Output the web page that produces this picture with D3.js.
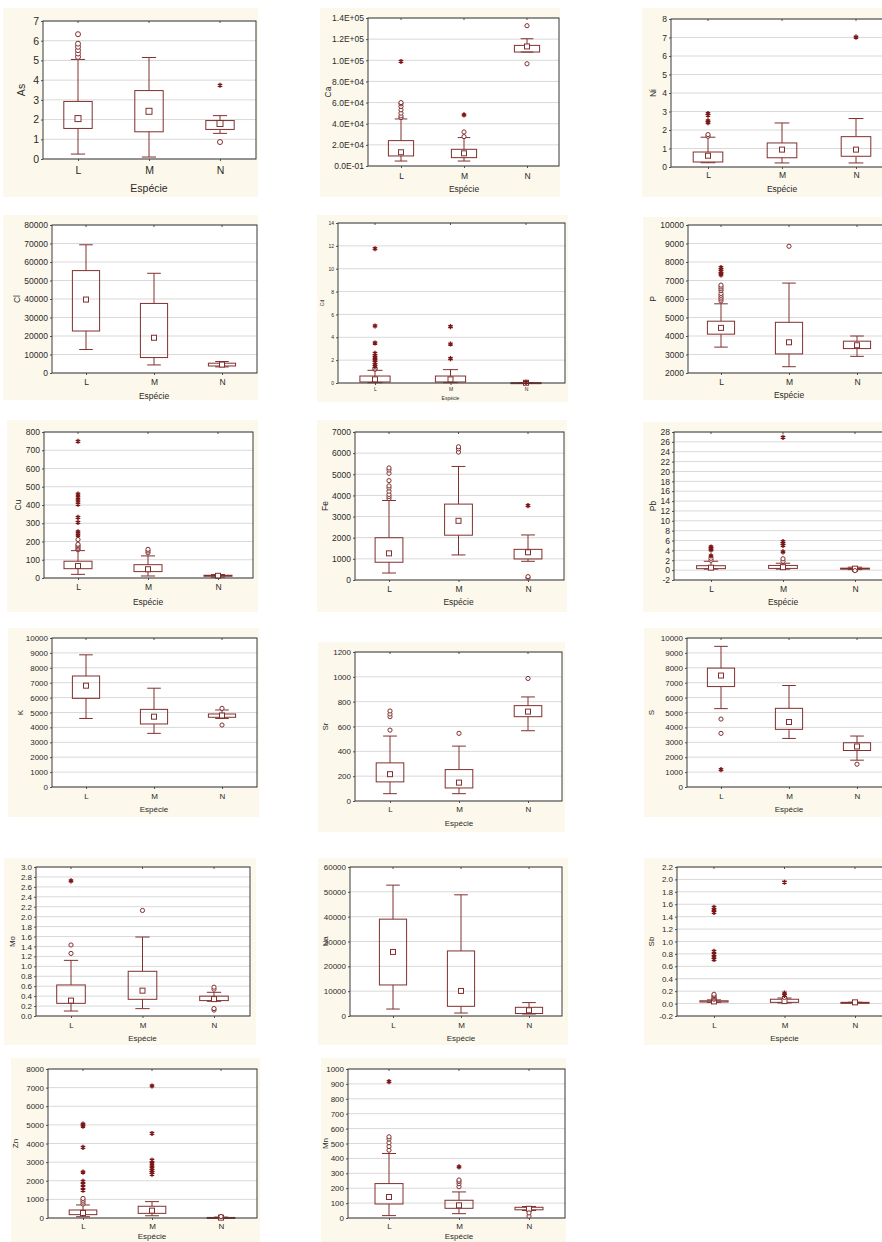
<!DOCTYPE html>
<html>
<head>
<meta charset="utf-8">
<script src="https://cdn.jsdelivr.net/npm/d3@7"></script>
<style>
  body { margin: 0; background: #fff; }
  svg { display: block; font-family: "Liberation Sans", Arial, sans-serif; }
</style>
</head>
<body>
<svg id="chart" width="882" height="1242"></svg>
<script>
// categories shared by every panel
var categories = ["L", "M", "N"];
var xTitle = "Espécie";

// box = [whisker low, q1, median, q3, whisker high] per category
// out = outliers (circles), ext = extremes (asterisks)
var as_ticks = [0, 1, 2, 3, 4, 5, 6, 7];
var as_box = [[0.25, 1.55, 2.05, 2.92, 5.05], [0.1, 1.38, 2.42, 3.47, 5.15], [1.3, 1.5, 1.8, 1.95, 2.2]];
var as_out = [[5.18, 5.35, 5.52, 5.69, 5.85, 6.33], [], [0.86]];
var as_ext = [[], [], [3.74]];

var ca_ticks = [0, 20000, 40000, 60000, 80000, 100000, 120000, 140000];
var ca_labels = ["0.0E-01", "2.0E+04", "4.0E+04", "6.0E+04", "8.0E+04", "1.0E+05", "1.2E+05", "1.4E+05"];
var ca_box = [[4700, 9500, 13000, 24000, 44500], [4700, 7900, 12000, 15800, 26900], [107800, 107800, 113100, 114100, 120400]];
var ca_out = [[45800, 47400, 50000, 53100, 56300, 58800, 60000], [27800, 32200], [96700, 132700]];
var ca_ext = [[98900], [48400], []];

var ni_ticks = [0, 1, 2, 3, 4, 5, 6, 7, 8];
var ni_box = [[0.23, 0.27, 0.61, 0.81, 1.61], [0.22, 0.5, 0.94, 1.3, 2.38], [0.22, 0.58, 0.94, 1.64, 2.62]];
var ni_out = [[1.66, 1.75], [], []];
var ni_ext = [[2.4, 2.49, 2.8, 2.89], [], [7.02]];

var cl_ticks = [0, 10000, 20000, 30000, 40000, 50000, 60000, 70000, 80000];
var cl_box = [[12700, 22700, 39700, 55350, 69300], [4350, 8350, 19050, 37600, 53900], [3300, 3800, 4550, 5300, 6200]];
var cl_out = [[], [], []];
var cl_ext = [[], [], []];

var cd_ticks = [0, 2, 4, 6, 8, 10, 12, 14];
var cd_box = [[0.03, 0.09, 0.32, 0.61, 1.11], [0.03, 0.09, 0.32, 0.61, 1.17], [0, 0.01, 0.02, 0.03, 0.04]];
var cd_out = [[1.2, 1.3], [], []];
var cd_ext = [[1.45, 1.6, 1.8, 2.0, 2.2, 2.4, 2.6, 3.5, 4.99, 11.75], [2.13, 3.41, 4.93], [0.06]];

var p_ticks = [2000, 3000, 4000, 5000, 6000, 7000, 8000, 9000, 10000];
var p_box = [[3400, 4100, 4440, 4800, 5740], [2340, 3030, 3660, 4740, 6860], [2900, 3320, 3500, 3720, 4000]];
var p_out = [[5900, 6000, 6100, 6200, 6300, 6450, 6550, 6650, 6750], [8850], []];
var p_ext = [[7300, 7400, 7500, 7600, 7700], [], []];

var cu_ticks = [0, 100, 200, 300, 400, 500, 600, 700, 800];
var cu_box = [[20, 51, 66, 92, 150], [11, 35, 48, 73, 121], [5, 10, 12, 15, 19]];
var cu_out = [[155, 162, 170, 178, 185, 211], [138, 148, 157], []];
var cu_ext = [[235, 253, 305, 332, 404, 422, 440, 460, 749], [], []];

var fe_ticks = [0, 1000, 2000, 3000, 4000, 5000, 6000, 7000];
var fe_box = [[330, 840, 1260, 2000, 3760], [1185, 2120, 2800, 3590, 5370], [885, 995, 1310, 1450, 2130]];
var fe_out = [[3850, 3950, 4050, 4200, 4350, 4450, 4700, 5050, 5200, 5300], [6050, 6200, 6300], [100, 160]];
var fe_ext = [[], [], [3520]];

var pb_ticks = [-2, 0, 2, 4, 6, 8, 10, 12, 14, 16, 18, 20, 22, 24, 26, 28];
var pb_box = [[0.2, 0.3, 0.5, 0.9, 1.8], [0.2, 0.35, 0.6, 0.95, 1.4], [0.1, 0.2, 0.3, 0.4, 0.6]];
var pb_out = [[2.0, 2.4], [1.8, 2.3], [-0.1]];
var pb_ext = [[2.9, 4.1, 4.4, 4.7], [3.7, 5.0, 5.4, 5.8, 26.9], []];

var k_ticks = [0, 1000, 2000, 3000, 4000, 5000, 6000, 7000, 8000, 9000, 10000];
var k_box = [[4600, 5950, 6800, 7450, 8870], [3600, 4230, 4720, 5210, 6630], [4600, 4680, 4800, 4900, 5170]];
var k_out = [[], [], [4160, 5280]];
var k_ext = [[], [], []];

var sr_ticks = [0, 200, 400, 600, 800, 1000, 1200];
var sr_box = [[59, 154, 216, 307, 523], [59, 105, 148, 253, 442], [566, 679, 720, 768, 838]];
var sr_out = [[571, 679, 701, 725], [545], [987]];
var sr_ext = [[], [], []];

var s_ticks = [0, 1000, 2000, 3000, 4000, 5000, 6000, 7000, 8000, 9000, 10000];
var s_box = [[5260, 6740, 7480, 7980, 9440], [3260, 3870, 4360, 5280, 6810], [1800, 2450, 2720, 2970, 3420]];
var s_out = [[3600, 4560], [], [1530]];
var s_ext = [[1170], [], []];

var mo_ticks = [0, 0.2, 0.4, 0.6, 0.8, 1.0, 1.2, 1.4, 1.6, 1.8, 2.0, 2.2, 2.4, 2.6, 2.8, 3.0];
var mo_box = [[0.1, 0.255, 0.31, 0.625, 1.12], [0.148, 0.336, 0.51, 0.9, 1.59], [0.296, 0.31, 0.34, 0.4, 0.477]];
var mo_out = [[1.26, 1.43], [2.125], [0.12, 0.15, 0.54, 0.58]];
var mo_ext = [[2.72], [], []];

var na_ticks = [0, 10000, 20000, 30000, 40000, 50000, 60000];
var na_box = [[2800, 12500, 25800, 39000, 52700], [1200, 3900, 10100, 26200, 48800], [800, 1000, 2300, 3500, 5400]];
var na_out = [[], [], []];
var na_ext = [[], [], []];

var sb_ticks = [-0.2, 0, 0.2, 0.4, 0.6, 0.8, 1.0, 1.2, 1.4, 1.6, 1.8, 2.0, 2.2];
var sb_box = [[0.02, 0.025, 0.035, 0.045, 0.06], [0.01, 0.02, 0.04, 0.07, 0.09], [0.02, 0.02, 0.02, 0.02, 0.02]];
var sb_out = [[0.07, 0.09, 0.11, 0.13, 0.15], [0.1], []];
var sb_ext = [[0.71, 0.75, 0.79, 0.84, 1.47, 1.51, 1.55], [0.13, 0.17, 1.955], []];

var zn_ticks = [0, 1000, 2000, 3000, 4000, 5000, 6000, 7000, 8000];
var zn_box = [[70, 180, 270, 430, 700], [120, 250, 395, 630, 880], [0, 10, 20, 30, 50]];
var zn_out = [[750, 850, 950, 1050], [], [80]];
var zn_ext = [[1490, 1650, 1800, 1970, 2460, 3790, 4930, 5040], [2350, 2450, 2550, 2650, 2800, 2950, 3100, 4540, 7090], []];

var mn_ticks = [0, 100, 200, 300, 400, 500, 600, 700, 800, 900, 1000];
var mn_box = [[16, 94, 141, 231, 433], [29, 65, 85, 119, 175], [50, 55, 62, 72, 77]];
var mn_out = [[455, 480, 505, 530, 545], [210, 230, 245, 255], [13, 34]];
var mn_ext = [[915], [343], []];

// panel layout: bg = [x0,y0,x1,y1], plot = [left,top,right,bottom], cat = [x of L, x of N]
var panels = [
  { name: "As", ticks: as_ticks, box: as_box, out: as_out, ext: as_ext, bg: [3, 8, 258, 197], plot: [43, 21, 256, 159], cat: [78, 220], catY: 170, titleY: 188, yTitleX: 21, fs: 10.5 },
  { name: "Ca", ticks: ca_ticks, labels: ca_labels, box: ca_box, out: ca_out, ext: ca_ext, bg: [320, 8, 560, 197], plot: [368, 18, 559, 166], cat: [401, 527], catY: 176, titleY: 189, yTitleX: 328, fs: 8.5 },
  { name: "Ni", ticks: ni_ticks, box: ni_box, out: ni_out, ext: ni_ext, bg: [642, 8, 900, 197], plot: [671, 19, 893, 167], cat: [708, 856], catY: 175, titleY: 189, yTitleX: 653, fs: 8.5 },
  { name: "Cl", ticks: cl_ticks, box: cl_box, out: cl_out, ext: cl_ext, bg: [3, 215, 258, 400], plot: [52, 225, 257, 373], cat: [86, 222], catY: 382, titleY: 396, yTitleX: 17, fs: 8.5 },
  { name: "Cd", ticks: cd_ticks, box: cd_box, out: cd_out, ext: cd_ext, bg: [317, 215, 568, 402], plot: [338, 223, 565, 383], cat: [375, 526], catY: 389, titleY: 398, yTitleX: 322, fs: 5 },
  { name: "P", ticks: p_ticks, box: p_box, out: p_out, ext: p_ext, bg: [643, 217, 900, 400], plot: [688, 225, 891, 373], cat: [721, 857], catY: 382, titleY: 395, yTitleX: 653, fs: 8.5 },
  { name: "Cu", ticks: cu_ticks, box: cu_box, out: cu_out, ext: cu_ext, bg: [7, 420, 258, 612], plot: [44, 432, 253, 578], cat: [78, 218], catY: 587, titleY: 602, yTitleX: 18, fs: 8.5 },
  { name: "Fe", ticks: fe_ticks, box: fe_box, out: fe_out, ext: fe_ext, bg: [317, 420, 567, 612], plot: [355, 432, 564, 580], cat: [389, 528], catY: 589, titleY: 602, yTitleX: 325, fs: 8.5 },
  { name: "Pb", ticks: pb_ticks, box: pb_box, out: pb_out, ext: pb_ext, bg: [643, 422, 900, 612], plot: [674, 432, 891, 580], cat: [711, 855], catY: 589, titleY: 602, yTitleX: 653, fs: 8.5 },
  { name: "K", ticks: k_ticks, box: k_box, out: k_out, ext: k_ext, bg: [8, 628, 259, 817], plot: [52, 638, 257, 787], cat: [86, 222], catY: 796, titleY: 809, yTitleX: 20, fs: 8 },
  { name: "Sr", ticks: sr_ticks, box: sr_box, out: sr_out, ext: sr_ext, bg: [318, 642, 565, 832], plot: [355, 652, 562, 801], cat: [390, 528], catY: 809, titleY: 823, yTitleX: 325, fs: 8 },
  { name: "S", ticks: s_ticks, box: s_box, out: s_out, ext: s_ext, bg: [644, 628, 900, 817], plot: [687, 638, 891, 787], cat: [721, 857], catY: 796, titleY: 809, yTitleX: 651, fs: 8 },
  { name: "Mo", ticks: mo_ticks, box: mo_box, out: mo_out, ext: mo_ext, bg: [4, 858, 256, 1045], plot: [36, 867, 250, 1016], cat: [71, 214], catY: 1025, titleY: 1038, yTitleX: 12, fs: 8, dec: 1 },
  { name: "Na", ticks: na_ticks, box: na_box, out: na_out, ext: na_ext, bg: [318, 858, 568, 1045], plot: [350, 867, 562, 1016], cat: [393, 529], catY: 1025, titleY: 1038, yTitleX: 325, fs: 8 },
  { name: "Sb", ticks: sb_ticks, box: sb_box, out: sb_out, ext: sb_ext, bg: [644, 858, 900, 1045], plot: [677, 867, 891, 1016], cat: [714, 855], catY: 1025, titleY: 1038, yTitleX: 651, fs: 8, dec: 1 },
  { name: "Zn", ticks: zn_ticks, box: zn_box, out: zn_out, ext: zn_ext, bg: [11, 1058, 260, 1250], plot: [48, 1069, 257, 1218], cat: [83, 221], catY: 1226, titleY: 1236, yTitleX: 15, fs: 8 },
  { name: "Mn", ticks: mn_ticks, box: mn_box, out: mn_out, ext: mn_ext, bg: [321, 1058, 566, 1250], plot: [348, 1069, 565, 1218], cat: [389, 529], catY: 1226, titleY: 1236, yTitleX: 325, fs: 8 }
];

var lineColor = "#80302f";
var markColor = "#7a1616";

var svg = d3.select("#chart");

function fmtTick(p, d, i) {
  if (p.labels) return p.labels[i];
  if (p.dec) return d.toFixed(p.dec);
  return String(d);
}

panels.forEach(function (p) {
  var g = svg.append("g");
  var left = p.plot[0], top = p.plot[1], right = p.plot[2], bottom = p.plot[3];

  // panel background
  g.append("rect")
    .attr("x", p.bg[0]).attr("y", p.bg[1])
    .attr("width", p.bg[2] - p.bg[0]).attr("height", p.bg[3] - p.bg[1])
    .attr("fill", "#fdf8ec");
  g.append("rect")
    .attr("x", left).attr("y", top)
    .attr("width", right - left).attr("height", bottom - top)
    .attr("fill", "#fff");

  var x = d3.scalePoint().domain(categories).range(p.cat);
  var y = d3.scaleLinear().domain(d3.extent(p.ticks)).range([bottom, top]);
  var boxW = x.step() * 0.4;
  var capW = boxW * 0.5;
  var rOut = p.fs > 10 ? 2.5 : 2.1;

  // grid lines
  g.append("g").selectAll("line")
    .data(p.ticks)
    .join("line")
      .attr("x1", left).attr("x2", right)
      .attr("y1", function (d) { return y(d); })
      .attr("y2", function (d) { return y(d); })
      .attr("stroke", "#d9d9d9");

  // y axis
  var ya = g.append("g")
    .attr("transform", "translate(" + left + ",0)")
    .call(d3.axisLeft(y).tickValues(p.ticks)
      .tickFormat(function (d, i) { return fmtTick(p, d, i); })
      .tickSizeInner(2).tickSizeOuter(0).tickPadding(2));
  ya.select(".domain").remove();
  ya.selectAll("line").attr("stroke", "#555");
  ya.selectAll("text").attr("font-size", p.fs).attr("fill", "#2a2a2a");

  // x axis
  var xa = g.append("g")
    .attr("transform", "translate(0," + bottom + ")")
    .call(d3.axisBottom(x).tickSizeInner(2).tickSizeOuter(0));
  xa.select(".domain").remove();
  xa.selectAll("line").attr("stroke", "#555");
  xa.selectAll("text")
    .attr("y", p.catY - bottom).attr("dy", "0.35em")
    .attr("font-size", p.fs).attr("fill", "#2a2a2a");

  // small ticks on top edge
  g.append("g").selectAll("line")
    .data(categories)
    .join("line")
      .attr("x1", function (d) { return x(d); })
      .attr("x2", function (d) { return x(d); })
      .attr("y1", top).attr("y2", top + 2)
      .attr("stroke", "#555");

  // axis titles
  g.append("text")
    .attr("x", x("M"))
    .attr("y", p.titleY).attr("dy", "0.35em")
    .attr("text-anchor", "middle")
    .attr("font-size", p.fs).attr("fill", "#2a2a2a")
    .text(xTitle);
  g.append("text")
    .attr("transform", "translate(" + p.yTitleX + "," + (top + bottom) / 2 + ") rotate(-90)")
    .attr("dy", "0.35em")
    .attr("text-anchor", "middle")
    .attr("font-size", p.fs).attr("fill", "#2a2a2a")
    .text(p.name);

  // boxes
  var b = g.append("g").selectAll("g")
    .data(p.box.map(function (v, i) { return { c: categories[i], v: v }; }))
    .join("g");

  b.append("line")
    .attr("x1", function (d) { return x(d.c); }).attr("x2", function (d) { return x(d.c); })
    .attr("y1", function (d) { return y(d.v[0]); }).attr("y2", function (d) { return y(d.v[1]); })
    .attr("stroke", lineColor);
  b.append("line")
    .attr("x1", function (d) { return x(d.c); }).attr("x2", function (d) { return x(d.c); })
    .attr("y1", function (d) { return y(d.v[3]); }).attr("y2", function (d) { return y(d.v[4]); })
    .attr("stroke", lineColor);
  [0, 4].forEach(function (k) {
    b.append("line")
      .attr("x1", function (d) { return x(d.c) - capW / 2; })
      .attr("x2", function (d) { return x(d.c) + capW / 2; })
      .attr("y1", function (d) { return y(d.v[k]); })
      .attr("y2", function (d) { return y(d.v[k]); })
      .attr("stroke", lineColor);
  });
  b.append("rect")
    .attr("x", function (d) { return x(d.c) - boxW / 2; })
    .attr("y", function (d) { return y(d.v[3]); })
    .attr("width", boxW)
    .attr("height", function (d) { return Math.max(1, y(d.v[1]) - y(d.v[3])); })
    .attr("fill", "none").attr("stroke", lineColor);

  // frame
  g.append("rect")
    .attr("x", left).attr("y", top)
    .attr("width", right - left).attr("height", bottom - top)
    .attr("fill", "none").attr("stroke", "#3a3a3a");

  // median squares
  var ms = p.fs > 10 ? 6 : 5;
  b.append("rect")
    .attr("x", function (d) { return x(d.c) - ms / 2; })
    .attr("y", function (d) { return y(d.v[2]) - ms / 2; })
    .attr("width", ms).attr("height", ms)
    .attr("fill", "#fff").attr("stroke", lineColor);

  // outliers
  var outs = [];
  p.out.forEach(function (arr, i) { arr.forEach(function (v) { outs.push({ c: categories[i], v: v }); }); });
  g.append("g").selectAll("circle")
    .data(outs)
    .join("circle")
      .attr("cx", function (d) { return x(d.c); })
      .attr("cy", function (d) { return y(d.v); })
      .attr("r", rOut)
      .attr("fill", "#fff").attr("stroke", lineColor);

  // extremes
  var exts = [];
  p.ext.forEach(function (arr, i) { arr.forEach(function (v) { exts.push({ c: categories[i], v: v }); }); });
  g.append("g").selectAll("path")
    .data(exts)
    .join("path")
      .attr("transform", function (d) { return "translate(" + x(d.c) + "," + y(d.v) + ")"; })
      .attr("d", d3.symbol().type(d3.symbolAsterisk).size(18))
      .attr("fill", "none").attr("stroke", markColor).attr("stroke-width", 1.4);
});
</script>
</body>
</html>
